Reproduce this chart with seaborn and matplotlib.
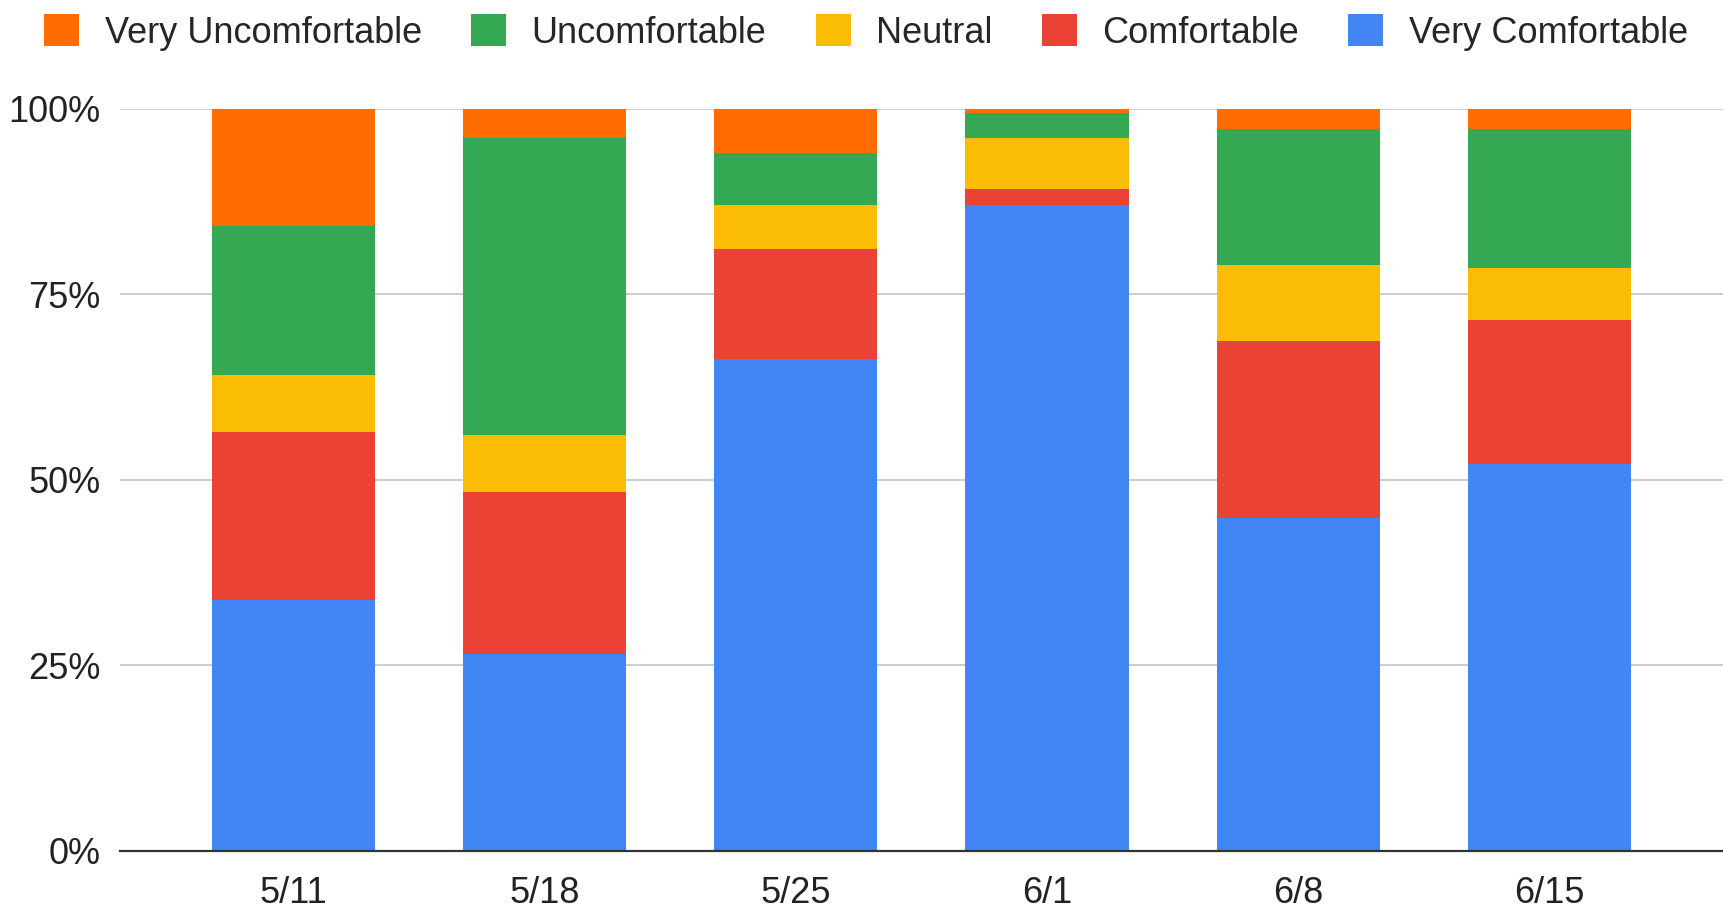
import numpy as np
import pandas as pd
import matplotlib
matplotlib.use("Agg")
import matplotlib.pyplot as plt
import seaborn as sns
from matplotlib.patches import Patch
from matplotlib.ticker import PercentFormatter

# Survey responses per week (percent of respondents)
weeks = ["5/11", "5/18", "5/25", "6/1", "6/8", "6/15"]
very_comfortable = [33.8, 26.5, 66.3, 87.1, 44.9, 52.2]
comfortable = [22.6, 21.8, 14.8, 2.1, 23.8, 19.4]
neutral = [7.8, 7.7, 6.0, 6.9, 10.2, 6.9]
uncomfortable = [20.0, 40.1, 7.0, 3.3, 18.4, 18.8]
very_uncomfortable = [15.8, 3.9, 5.9, 0.6, 2.7, 2.7]

series_names = ["Very Comfortable", "Comfortable", "Neutral",
                "Uncomfortable", "Very Uncomfortable"]
colors = ["#4285F4", "#EA4335", "#FBBC04", "#34A853", "#FF6D01"]

df = pd.DataFrame({
    "Very Comfortable": very_comfortable,
    "Comfortable": comfortable,
    "Neutral": neutral,
    "Uncomfortable": uncomfortable,
    "Very Uncomfortable": very_uncomfortable,
}, index=weeks)

# normalise to 100% and stack
df = df.div(df.sum(axis=1), axis=0) * 100
cum = df.cumsum(axis=1)

sns.set_theme(style="white")
plt.rcParams["font.family"] = ["Liberation Sans", "DejaVu Sans"]

fig = plt.figure(figsize=(17.23, 9.08), dpi=100)
ax = fig.add_axes([0.0696, 0.063, 0.9304, 0.817])

# draw tallest (cumulative) first so lower segments sit on top
for name, col in reversed(list(zip(series_names, colors))):
    sns.barplot(x=weeks, y=cum[name].values, color=col, saturation=1,
                width=0.65, ax=ax, zorder=3, edgecolor="none", linewidth=0)

ax.set_ylim(0, 100)
ax.set_xlim(-0.69, 5.69)
ax.set_yticks([0, 25, 50, 75, 100])
ax.yaxis.set_major_formatter(PercentFormatter(decimals=0))
ax.yaxis.grid(True, color="#cccccc", linewidth=1.4, zorder=0)
ax.set_axisbelow(True)
for s in ["top", "right", "left"]:
    ax.spines[s].set_visible(False)
ax.spines["bottom"].set_color("#333333")
ax.spines["bottom"].set_linewidth(1.6)
ax.spines["bottom"].set_zorder(4)
ax.tick_params(axis="x", length=0, pad=18, labelsize=26, colors="#222222")
ax.tick_params(axis="y", length=0, pad=14, labelsize=26, colors="#222222")
ax.set_xlabel("")
ax.set_ylabel("")

handles = [Patch(facecolor=c, edgecolor="none", label=n)
           for n, c in zip(series_names[::-1], colors[::-1])]
fig.legend(handles=handles, loc="upper center", bbox_to_anchor=(0.5026, 1.012),
           ncol=5, frameon=False, fontsize=26, handlelength=0.97,
           handleheight=0.97, handletextpad=0.7, columnspacing=1.37,
           borderaxespad=0.3)

fig.savefig("out.png", dpi=100)
